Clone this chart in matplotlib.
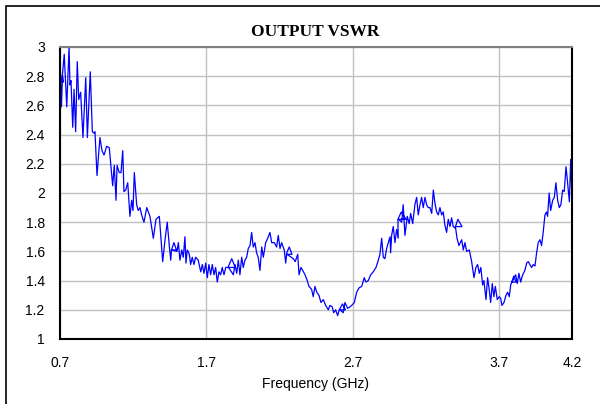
import matplotlib
matplotlib.use('Agg')
import matplotlib.pyplot as plt
from matplotlib.patches import Rectangle

freq_ghz = [
    0.703, 0.710, 0.717, 0.724, 0.712, 0.729, 0.746, 0.762, 0.768, 0.775,
    0.787, 0.796, 0.807, 0.818, 0.828, 0.841, 0.857, 0.876, 0.887, 0.907,
    0.921, 0.932, 0.939, 0.953, 0.973, 0.987, 1.001, 1.019, 1.037, 1.060,
    1.071, 1.083, 1.090, 1.105, 1.117, 1.129, 1.137, 1.149, 1.163, 1.178,
    1.190, 1.199, 1.208, 1.224, 1.235, 1.247, 1.258, 1.274, 1.293, 1.315,
    1.338, 1.356, 1.379, 1.402, 1.418, 1.433, 1.447, 1.457, 1.462, 1.479,
    1.496, 1.464, 1.500, 1.509, 1.520, 1.532, 1.543, 1.554, 1.561, 1.570,
    1.584, 1.593, 1.604, 1.616, 1.627, 1.645, 1.662, 1.673, 1.684, 1.696,
    1.707, 1.718, 1.730, 1.741, 1.753, 1.764, 1.775, 1.787, 1.798, 1.809,
    1.821, 1.833, 1.848, 1.874, 1.898, 1.852, 1.885, 1.896, 1.908, 1.919,
    1.930, 1.942, 1.953, 1.964, 1.976, 1.987, 1.999, 2.010, 2.021, 2.033,
    2.044, 2.055, 2.067, 2.079, 2.090, 2.106, 2.120, 2.135, 2.147, 2.165,
    2.181, 2.192, 2.204, 2.215, 2.233, 2.243, 2.250, 2.267, 2.286, 2.252,
    2.295, 2.308, 2.325, 2.334, 2.347, 2.359, 2.375, 2.390, 2.402, 2.420,
    2.431, 2.443, 2.455, 2.470, 2.484, 2.500, 2.516, 2.534, 2.545, 2.561,
    2.571, 2.584, 2.598, 2.609, 2.631, 2.651, 2.614, 2.636, 2.648, 2.666,
    2.682, 2.694, 2.712, 2.728, 2.744, 2.762, 2.780, 2.791, 2.807, 2.824,
    2.841, 2.860, 2.876, 2.887, 2.899, 2.910, 2.921, 2.933, 2.944, 2.956,
    2.960, 2.967, 2.978, 2.990, 3.001, 3.012, 3.010, 3.033, 3.065, 3.014,
    3.036, 3.046, 3.058, 3.074, 3.087, 3.097, 3.111, 3.126, 3.138, 3.149,
    3.161, 3.172, 3.183, 3.195, 3.206, 3.217, 3.229, 3.241, 3.252, 3.263,
    3.275, 3.286, 3.297, 3.309, 3.320, 3.331, 3.343, 3.354, 3.366, 3.377,
    3.388, 3.400, 3.420, 3.448, 3.403, 3.414, 3.427, 3.446, 3.457, 3.468,
    3.480, 3.498, 3.514, 3.530, 3.543, 3.555, 3.566, 3.577, 3.589, 3.598,
    3.612, 3.623, 3.634, 3.644, 3.655, 3.666, 3.676, 3.689, 3.703, 3.712,
    3.721, 3.735, 3.749, 3.760, 3.771, 3.781, 3.788, 3.802, 3.818, 3.790,
    3.815, 3.826, 3.837, 3.849, 3.863, 3.878, 3.890, 3.901, 3.912, 3.924,
    3.935, 3.947, 3.958, 3.969, 3.981, 3.992, 4.003, 4.015, 4.026, 4.033,
    4.044, 4.054, 4.068, 4.079, 4.090, 4.102, 4.113, 4.124, 4.136, 4.147,
    4.159, 4.168, 4.182, 4.191, 4.200,
]
vswr = [
    2.82, 2.59, 2.81, 2.76, 2.76, 2.95, 2.59, 3.00, 2.74, 2.77,
    2.45, 2.71, 2.42, 2.90, 2.64, 2.69, 2.38, 2.79, 2.38, 2.83,
    2.42, 2.41, 2.42, 2.12, 2.38, 2.29, 2.26, 2.32, 2.31, 2.05,
    2.19, 1.95, 2.19, 2.14, 2.14, 2.29, 2.01, 2.02, 2.07, 1.84,
    1.95, 1.88, 2.14, 1.92, 1.88, 1.90, 1.85, 1.80, 1.90, 1.84,
    1.69, 1.82, 1.84, 1.53, 1.68, 1.80, 1.64, 1.54, 1.61, 1.66,
    1.61, 1.61, 1.60, 1.66, 1.54, 1.61, 1.56, 1.70, 1.52, 1.61,
    1.58, 1.51, 1.56, 1.51, 1.56, 1.54, 1.46, 1.51, 1.45, 1.52,
    1.42, 1.51, 1.44, 1.51, 1.44, 1.49, 1.39, 1.46, 1.44, 1.49,
    1.44, 1.49, 1.49, 1.55, 1.49, 1.49, 1.44, 1.51, 1.45, 1.54,
    1.44, 1.56, 1.49, 1.54, 1.56, 1.62, 1.64, 1.73, 1.63, 1.66,
    1.59, 1.56, 1.47, 1.63, 1.56, 1.66, 1.69, 1.73, 1.66, 1.66,
    1.63, 1.71, 1.62, 1.66, 1.61, 1.52, 1.59, 1.63, 1.58, 1.58,
    1.55, 1.53, 1.58, 1.44, 1.49, 1.47, 1.44, 1.40, 1.36, 1.34,
    1.29, 1.36, 1.32, 1.30, 1.25, 1.27, 1.23, 1.20, 1.23, 1.22,
    1.18, 1.20, 1.16, 1.20, 1.24, 1.20, 1.20, 1.18, 1.25, 1.21,
    1.22, 1.23, 1.25, 1.32, 1.35, 1.36, 1.42, 1.39, 1.40, 1.44,
    1.46, 1.49, 1.54, 1.58, 1.69, 1.56, 1.55, 1.62, 1.66, 1.70,
    1.59, 1.71, 1.77, 1.66, 1.75, 1.69, 1.82, 1.87, 1.82, 1.82,
    1.80, 1.92, 1.71, 1.84, 1.79, 1.86, 1.79, 1.92, 1.97, 1.85,
    1.92, 1.97, 1.90, 1.97, 1.92, 1.90, 1.90, 1.86, 2.02, 1.93,
    1.87, 1.85, 1.90, 1.85, 1.87, 1.78, 1.73, 1.82, 1.77, 1.83,
    1.77, 1.76, 1.82, 1.77, 1.77, 1.69, 1.64, 1.68, 1.61, 1.66,
    1.60, 1.61, 1.53, 1.42, 1.49, 1.51, 1.45, 1.49, 1.37, 1.40,
    1.27, 1.42, 1.34, 1.25, 1.38, 1.29, 1.36, 1.27, 1.29, 1.28,
    1.23, 1.25, 1.30, 1.32, 1.29, 1.37, 1.39, 1.43, 1.39, 1.39,
    1.44, 1.38, 1.45, 1.39, 1.44, 1.47, 1.52, 1.53, 1.51, 1.49,
    1.51, 1.50, 1.59, 1.66, 1.68, 1.64, 1.73, 1.85, 1.87, 1.84,
    2.00, 1.88, 1.95, 1.97, 2.07, 1.95, 1.90, 1.92, 2.02, 2.01,
    2.18, 2.09, 1.94, 2.23, 1.94,
]
x_ticks = [0.7, 1.7, 2.7, 3.7, 4.2]
y_ticks = [1, 1.2, 1.4, 1.6, 1.8, 2, 2.2, 2.4, 2.6, 2.8, 3]

fig = plt.figure(figsize=(6, 4.04), dpi=100)
ax = fig.add_axes([60 / 600, 1 - 339 / 404, 512 / 600, 292 / 404])

# outer chart frame (right/bottom edges fall outside the picture)
fig.patches.append(Rectangle((6 / 600, -0.05), 1.2, 1 - 6 / 404 + 0.05,
                             transform=fig.transFigure, fill=False,
                             edgecolor='black', linewidth=1.2))

ax.plot(freq_ghz, vswr, color='#0000FF', linewidth=0.9)

ax.set_xlim(0.7, 4.2)
ax.set_ylim(1, 3)
ax.set_xticks(x_ticks)
ax.set_xticklabels([f'{t:g}' for t in x_ticks])
ax.set_yticks(y_ticks)
ax.set_yticklabels([f'{t:g}' for t in y_ticks])
ax.grid(True, color='#c0c0c0', linewidth=1.0)
ax.set_axisbelow(True)
ax.tick_params(length=0, labelsize=10)
ax.tick_params(axis='x', pad=12)
ax.tick_params(axis='y', pad=11)
for lbl in ax.get_xticklabels() + ax.get_yticklabels():
    lbl.set_family('Liberation Sans')

for side in ['left', 'bottom', 'right']:
    ax.spines[side].set_color('black')
    ax.spines[side].set_linewidth(1.5)
ax.spines['top'].set_color('#808080')
ax.spines['top'].set_linewidth(1.5)

ax.set_xlabel('Frequency (GHz)', family='Liberation Sans', fontsize=10, labelpad=5)
fig.text(315.5 / 600, 1 - 32 / 404, 'OUTPUT VSWR', ha='center', va='center',
         family='Liberation Serif', fontweight='bold', fontsize=12.5)

fig.savefig('out.png', dpi=100)
